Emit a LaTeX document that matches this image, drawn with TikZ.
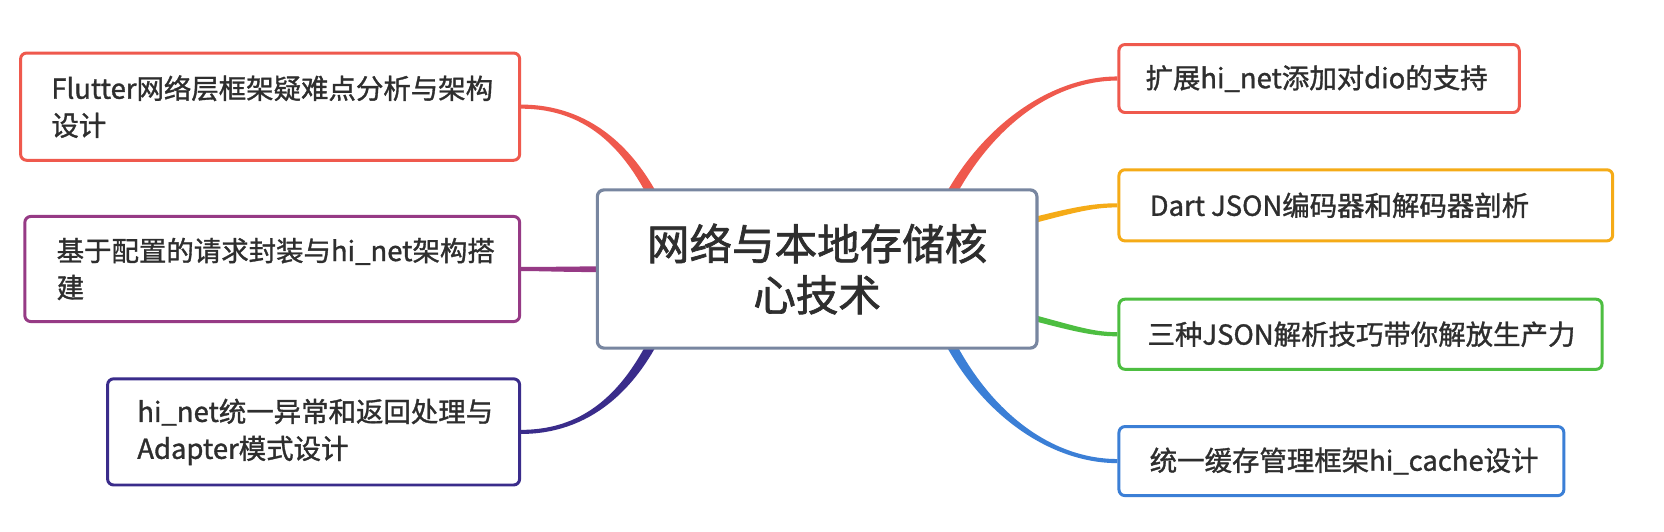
\documentclass[tikz,border=0pt]{standalone}
\usepackage{fontspec}
\setmainfont{Noto Sans CJK SC}
\newfontfamily\leaffont{Noto Sans CJK SC}[FakeBold=1.2]
\newfontfamily\hubfont{Noto Sans CJK SC}[FakeBold=1.6]
\usetikzlibrary{calc}
\pgfdeclarelayer{background}
\pgfsetlayers{background,main}
\definecolor{cred}{HTML}{EF594D}
\definecolor{cpurple}{HTML}{963A85}
\definecolor{cindigo}{HTML}{3A2C8B}
\definecolor{corange}{HTML}{F5AB17}
\definecolor{cgreen}{HTML}{4DBE41}
\definecolor{cblue}{HTML}{3B7FD6}
\definecolor{ccenter}{HTML}{7886A0}
\definecolor{ctext}{HTML}{2E2E2E}
\newcommand\taperline[7]{%
  \path ($(#2)!#6!90:(#3)$) coordinate (tA) ($(#2)!#6!-90:(#3)$) coordinate (tB)
        ($(#5)!#7!-90:(#4)$) coordinate (tC) ($(#5)!#7!90:(#4)$) coordinate (tD);
  \fill[#1] (tA) .. controls ($(#3)+(tA)-(#2)$) and ($(#4)+(tC)-(#5)$) .. (tC)
     -- (tD) .. controls ($(#4)+(tD)-(#5)$) and ($(#3)+(tB)-(#2)$) .. (tB) -- cycle;
}
\tikzset{
  leaf/.style={draw, line width=0.8pt, rounded corners=1.6pt, fill=white, text=ctext,
    font=\leaffont\fontsize{7.35pt}{9.9pt}\selectfont, align=left, anchor=west, inner ysep=0pt},
  hub/.style={draw=ccenter, line width=0.85pt, rounded corners=1.8pt, fill=white, text=ctext,
    font=\hubfont\fontsize{11.4pt}{13.7pt}\selectfont, align=center, inner sep=0pt,
    minimum width=4.14cm, minimum height=1.49cm},
}
\begin{document}
\begin{tikzpicture}[x=0.01cm,y=-0.01cm]
\useasboundingbox (0,0) rectangle (1568,500.4);
% center
\node[hub] (c) at (770,253.5) {网络与本地存储核\\心技术};
% left leaves
\node[leaf, draw=cred, minimum width=4.70cm, minimum height=1.01cm, inner xsep=0.29cm, text width=4.12cm]
  (L1) at (18,100.5) {Flutter网络层框架疑难点分析与架构\\设计};
\node[leaf, draw=cpurple, minimum width=4.66cm, minimum height=0.99cm, inner xsep=0.30cm, text width=4.06cm]
  (L2) at (22,253.5) {基于配置的请求封装与hi\_net架构搭\\建};
\node[leaf, draw=cindigo, minimum width=3.88cm, minimum height=1.00cm, inner xsep=0.28cm, text width=3.32cm]
  (L3) at (100,407) {hi\_net统一异常和返回处理与\\Adapter模式设计};
% right leaves
\node[leaf, draw=cred, minimum width=3.77cm, minimum height=0.64cm, inner xsep=0.25cm, text width=3.27cm]
  (R1) at (1053,74) {扩展hi\_net添加对dio的支持};
\node[leaf, draw=corange, minimum width=4.65cm, minimum height=0.67cm, inner xsep=0.29cm, text width=4.07cm]
  (R2) at (1053,193.5) {Dart\hspace{0.22em}JSON编码器和解码器剖析};
\node[leaf, draw=cgreen, minimum width=4.55cm, minimum height=0.66cm, inner xsep=0.27cm, text width=4.01cm]
  (R3) at (1053,315) {三种JSON解析技巧带你解放生产力};
\node[leaf, draw=cblue, minimum width=4.19cm, minimum height=0.65cm, inner xsep=0.29cm, text width=3.61cm]
  (R4) at (1053,434.5) {统一缓存管理框架hi\_cache设计};
% connectors
\begin{pgfonlayer}{background}
\fill[white] (0,0) rectangle (1568,500.4);
% L1
\coordinate (a0) at ($(c.north west)+(67,36)$);
\coordinate (a1) at ($(c.north west)+(37,-39)$);
\coordinate (a2) at ($(L1.east)+(62,0)$);
\taperline{cred}{a0}{a1}{a2}{L1.east}{1.35pt}{0.55pt}
% L2
\coordinate (b0) at ($(c.west)+(30,0)$);
\coordinate (b1) at ($(c.west)+(-25,0.5)$);
\coordinate (b2) at ($(L2.east)+(25,0)$);
\taperline{cpurple}{b0}{b1}{b2}{L2.east}{0.8pt}{0.55pt}
% L3
\coordinate (d0) at ($(c.south west)+(67,-36)$);
\coordinate (d1) at ($(c.south west)+(37,39)$);
\coordinate (d2) at ($(L3.east)+(62,0)$);
\taperline{cindigo}{d0}{d1}{d2}{L3.east}{1.35pt}{0.55pt}
% R1
\coordinate (e0) at ($(c.north east)+(-97,36)$);
\coordinate (e1) at ($(c.north east)+(-62,-49)$);
\coordinate (e2) at ($(R1.west)+(-68,0)$);
\taperline{cred}{e0}{e1}{e2}{R1.west}{1.35pt}{0.55pt}
% R2
\coordinate (f0) at ($(c.east)+(-20,-42)$);
\coordinate (f1) at ($(c.east)+(30,-55)$);
\coordinate (f2) at ($(R2.west)+(-25,0)$);
\taperline{corange}{f0}{f1}{f2}{R2.west}{0.8pt}{0.55pt}
% R3
\coordinate (g0) at ($(c.east)+(-20,42)$);
\coordinate (g1) at ($(c.east)+(30,55)$);
\coordinate (g2) at ($(R3.west)+(-25,0)$);
\taperline{cgreen}{g0}{g1}{g2}{R3.west}{0.8pt}{0.55pt}
% R4
\coordinate (h0) at ($(c.south east)+(-97,-36)$);
\coordinate (h1) at ($(c.south east)+(-62,52)$);
\coordinate (h2) at ($(R4.west)+(-68,0)$);
\taperline{cblue}{h0}{h1}{h2}{R4.west}{1.35pt}{0.55pt}
\end{pgfonlayer}
\end{tikzpicture}
\end{document}
